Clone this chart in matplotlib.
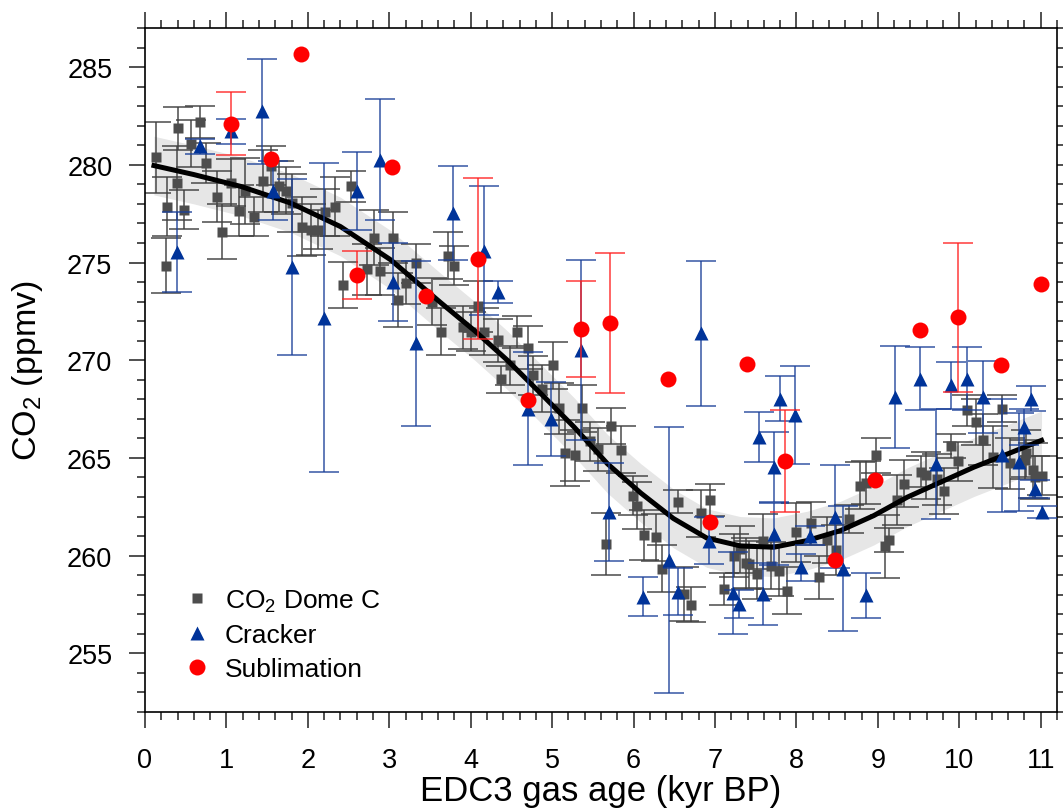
import numpy as np
import matplotlib.pyplot as plt
from matplotlib.ticker import MultipleLocator

plt.rcParams['font.family'] = ['Liberation Sans', 'DejaVu Sans']
plt.rcParams['mathtext.fontset'] = 'custom'
plt.rcParams['mathtext.rm'] = 'Liberation Sans'
plt.rcParams['mathtext.it'] = 'Liberation Sans:italic'

# CO2 DOME C (GRAY SQUARES)
dome_age = [0.13, 0.26, 0.27, 0.39, 0.40, 0.48, 0.56, 0.67, 0.75, 0.88, 0.95, 1.06, 1.15, 1.23,
            1.34, 1.45, 1.55, 1.64, 1.73, 1.81, 1.93, 2.04, 2.12, 2.21, 2.33, 2.43, 2.53, 2.73,
            2.81, 2.88, 3.05, 3.11, 3.21, 3.33, 3.52, 3.63, 3.72, 3.79, 3.91, 4.00, 4.09, 4.16,
            4.33, 4.37, 4.48, 4.57, 4.70, 4.77, 4.87, 5.01, 5.09, 5.16, 5.28, 5.37, 5.47, 5.56,
            5.66, 5.72, 5.85, 5.99, 6.04, 6.13, 6.27, 6.35, 6.54, 6.62, 6.71, 6.83, 6.94, 7.11,
            7.23, 7.31, 7.38, 7.42, 7.51, 7.59, 7.69, 7.78, 7.88, 7.99, 8.18, 8.28, 8.38, 8.48,
            8.65, 8.78, 8.86, 8.98, 9.09, 9.14, 9.24, 9.32, 9.53, 9.59, 9.73, 9.81, 9.90, 9.98,
            10.09, 10.20, 10.29, 10.42, 10.53, 10.62, 10.81, 10.82, 10.90, 10.93, 11.01]
dome_co2 = [280.38, 274.84, 277.86, 279.06, 281.88, 277.69, 281.08, 282.19, 280.09, 278.37, 276.58,
            279.09, 277.66, 278.67, 277.35, 279.18, 279.96, 278.89, 278.67, 278.04, 276.84, 276.67,
            276.67, 277.56, 277.86, 273.85, 278.89, 274.65, 276.27, 274.56, 276.27, 273.08, 273.96,
            274.96, 272.99, 271.45, 275.35, 274.84, 271.68, 271.45, 272.77, 271.45, 271.03, 269.03,
            269.74, 271.45, 270.63, 269.23, 268.55, 269.74, 267.55, 265.25, 265.13, 267.55, 265.86,
            265.44, 260.60, 266.63, 265.41, 263.07, 262.56, 261.06, 260.94, 259.32, 262.77, 258.04,
            257.49, 262.17, 262.85, 258.29, 259.99, 260.33, 259.60, 259.56, 259.08, 260.74, 259.49,
            259.23, 258.21, 261.20, 261.66, 258.89, 260.80, 260.29, 261.87, 263.58, 263.72, 265.13,
            260.47, 260.80, 262.85, 263.68, 264.30, 264.11, 263.90, 263.31, 265.60, 264.82, 267.44,
            266.84, 265.93, 265.05, 267.52, 264.73, 264.90, 265.25, 264.36, 264.02, 264.10]
dome_err = [1.8, 1.4, 1.5, 1.9, 1.1, 1.0, 1.2, 0.8, 1.0, 1.3, 1.4, 1.2, 1.3, 1.7,
            1.0, 1.6, 1.0, 1.3, 1.2, 1.5, 1.5, 1.3, 1.0, 1.2, 1.5, 1.2, 0.8, 1.3,
            1.4, 1.2, 1.3, 1.4, 1.1, 1.0, 1.2, 1.2, 1.2, 1.0, 1.1, 1.0, 1.3, 1.2,
            1.1, 0.7, 1.0, 0.8, 1.1, 1.0, 1.2, 1.2, 1.3, 1.7, 1.3, 1.2, 1.0, 1.1,
            1.6, 0.9, 1.2, 1.0, 1.2, 1.3, 1.2, 1.2, 0.6, 1.4, 0.9, 1.2, 0.8, 0.8,
            1.1, 1.2, 1.3, 1.2, 1.3, 1.4, 1.2, 1.3, 1.2, 1.5, 1.1, 1.1, 1.2, 1.3,
            0.7, 1.2, 1.1, 0.9, 1.6, 0.6, 1.3, 1.2, 0.8, 1.2, 1.3, 1.2, 0.6, 1.0,
            0.8, 1.2, 1.3, 1.6, 0.7, 1.3, 1.0, 1.2, 1.4, 1.1, 1.0]

# CRACKER (BLUE TRIANGLES)
crack_age = [0.39, 0.67, 1.05, 1.44, 1.57, 1.80, 2.20, 2.60, 2.89, 3.04, 3.33, 3.78, 4.16, 4.33,
             4.70, 4.99, 5.36, 5.70, 6.12, 6.43, 6.54, 6.83, 6.93, 7.22, 7.30, 7.54, 7.59, 7.72,
             7.72, 7.80, 7.98, 8.06, 8.17, 8.47, 8.57, 8.86, 9.21, 9.52, 9.72, 9.90, 10.09, 10.29,
             10.52, 10.73, 10.79, 10.88, 10.93, 11.01]
crack_co2 = [275.55, 280.94, 281.71, 282.73, 278.68, 274.75, 272.18, 278.68, 280.26, 274.02, 270.86,
             277.52, 275.60, 273.50, 267.52, 267.00, 270.51, 262.22, 257.90, 259.78, 258.15, 271.37,
             260.77, 258.07, 257.52, 266.07, 258.04, 264.53, 261.12, 268.03, 267.18, 259.40, 261.03,
             262.00, 259.32, 257.98, 268.12, 269.06, 264.70, 268.72, 269.06, 268.12, 265.13, 264.79,
             266.58, 268.03, 263.42, 262.22]
crack_err = [2.05, 0.4, 0.65, 2.7, 1.5, 4.5, 7.9, 2.0, 3.1, 2.0, 4.2, 2.4, 3.3, 0.55,
             2.9, 1.9, 4.6, 2.5, 1.0, 6.8, 1.2, 3.7, 1.2, 2.1, 0.7, 1.3, 1.6, 1.8,
             1.6, 1.15, 2.5, 0.7, 0.5, 2.65, 3.2, 1.15, 2.6, 1.6, 2.8, 1.2, 1.6, 1.85,
             2.9, 2.5, 0.9, 0.65, 0.45, 0.3]

# SUBLIMATION (RED CIRCLES), 0 = NO ERROR BAR SHOWN
sub_age = [1.05, 1.55, 1.91, 2.60, 3.03, 3.45, 4.09, 4.70, 5.36, 5.71, 6.42, 6.94, 7.39, 7.86,
           8.47, 8.97, 9.52, 9.98, 10.51, 11.00]
sub_co2 = [282.10, 280.31, 285.69, 274.36, 279.90, 273.28, 275.20, 267.95, 271.59, 271.91, 269.03,
           261.71, 269.83, 264.84, 259.78, 263.88, 271.54, 272.19, 269.74, 273.88]
sub_err = [1.6, 0, 0, 1.25, 0, 0, 4.1, 0, 2.45, 3.6, 0, 0, 0, 2.6,
           0, 0, 0, 3.8, 0, 0]

# SMOOTHING SPLINE AND ITS ENVELOPE
fit_age = [0.11, 0.6, 1.18, 1.79, 2.40, 3.02, 3.63, 4.05, 4.45, 4.86, 5.27, 5.68, 6.09, 6.49,
           6.90, 7.31, 7.72, 8.13, 8.54, 8.95, 9.36, 9.77, 10.18, 10.59, 11.01]
fit_co2 = [279.96, 279.5, 278.89, 278.04, 276.84, 275.13, 272.95, 271.5, 270.0, 268.3, 266.58,
           264.7, 263.2, 261.9, 260.9, 260.5, 260.43, 260.77, 261.28, 262.05, 262.99, 263.76,
           264.53, 265.2, 265.9]
band_half = 1.5

#FIGURE
fig = plt.figure(figsize=(10.63, 8.12), dpi=100)
ax = fig.add_axes([145/1063, 1-713/812, 912/1063, 684/812])

fit_age = np.array(fit_age)
fit_co2 = np.array(fit_co2)
ax.fill_between(fit_age, fit_co2-band_half, fit_co2+band_half, color='#e6e6e6', lw=0, zorder=1)

#GRAY DOME C
ax.errorbar(dome_age, dome_co2, yerr=dome_err, fmt='none', ecolor='#404040', elinewidth=1.3,
            capsize=10.8, capthick=1.3, alpha=0.8, zorder=2)
ax.plot(dome_age, dome_co2, 's', color='#4d4d4d', ms=7, mec='none', zorder=3,
        label='CO$_2$ Dome C')

#BLACK FIT LINE
ax.plot(fit_age, fit_co2, color='black', lw=3.6, zorder=4)

#BLUE CRACKER
ax.errorbar(crack_age, crack_co2, yerr=crack_err, fmt='none', ecolor='#1a3f99', elinewidth=1.3,
            capsize=10.8, capthick=1.3, alpha=0.75, zorder=5)
ax.plot(crack_age, crack_co2, '^', color='#003399', ms=10.5, mec='none', zorder=6, label='Cracker')

#RED SUBLIMATION (ONLY POINTS WITH ERRORS GET BARS)
sub_age = np.array(sub_age)
sub_co2 = np.array(sub_co2)
sub_err = np.array(sub_err)
has = sub_err > 0
ax.errorbar(sub_age[has], sub_co2[has], yerr=sub_err[has], fmt='none', ecolor='#ff2020',
            elinewidth=1.3, capsize=10.8, capthick=1.3, alpha=0.75, zorder=7)
ax.plot(sub_age, sub_co2, 'o', color='#ff0000', ms=11.5, mec='none', zorder=8, label='Sublimation')

#AXES
ax.set_xlim(0, 11.2)
ax.set_ylim(252, 287)
ax.xaxis.set_major_locator(MultipleLocator(1))
ax.xaxis.set_minor_locator(MultipleLocator(0.2))
ax.yaxis.set_major_locator(MultipleLocator(5))
ax.yaxis.set_minor_locator(MultipleLocator(1))
ax.tick_params(which='both', direction='out', top=True, right=True, width=1.1, color='#202020')
ax.tick_params(which='major', length=11.5)
ax.tick_params(which='minor', length=6)
ax.tick_params(axis='x', which='major', labelsize=19.5, pad=14)
ax.tick_params(axis='y', which='major', labelsize=19.5, pad=12)
for s in ax.spines.values():
    s.set_linewidth(1.2)

ax.set_xlabel("EDC3 gas age (kyr BP)", fontsize=25, labelpad=0.5)
ax.set_ylabel("CO$_2$ (ppmv)", fontsize=24.5, labelpad=16)

ax.legend(loc='lower left', bbox_to_anchor=(0.031, 0.03), frameon=False, fontsize=19,
          handlelength=1, handletextpad=0.55, labelspacing=0.36, numpoints=1, borderaxespad=0)

fig.savefig("out.png", dpi=100)
